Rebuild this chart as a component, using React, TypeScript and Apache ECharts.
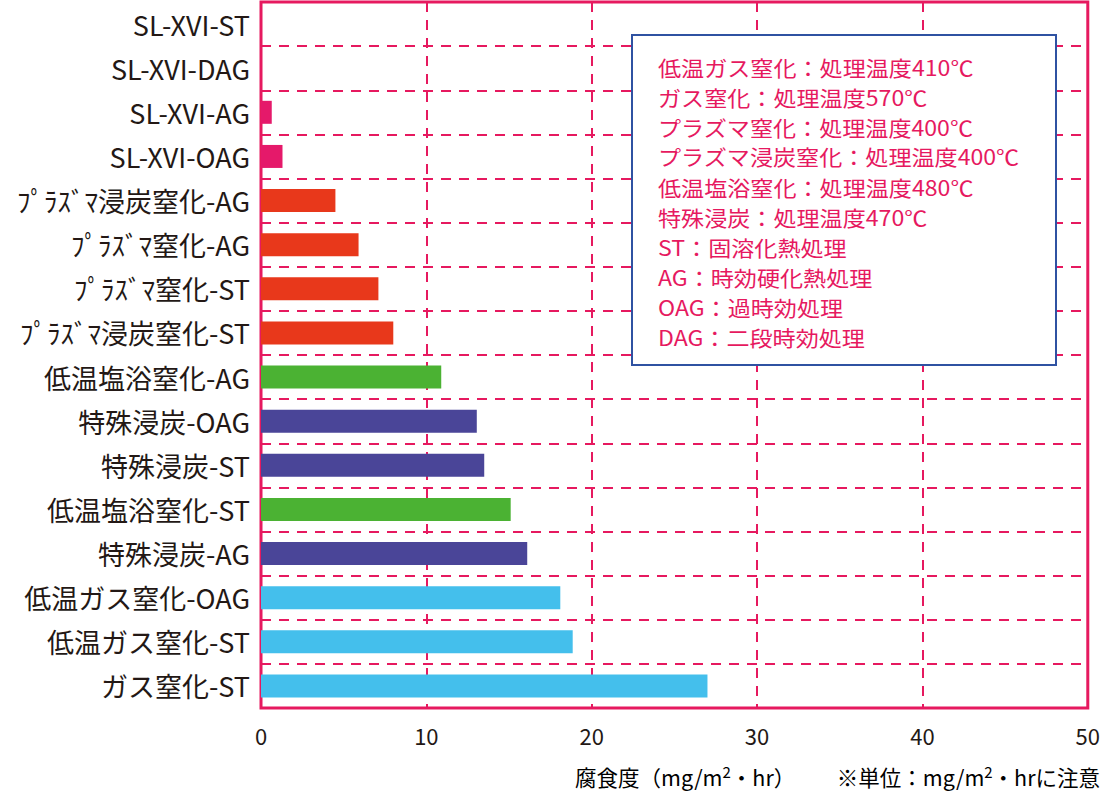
import React, { useEffect, useRef } from "react";
import * as echarts from "echarts";

const categories = [
  "SL-XVI-ST",
  "SL-XVI-DAG",
  "SL-XVI-AG",
  "SL-XVI-OAG",
  "ﾌﾟﾗｽﾞﾏ浸炭窒化-AG",
  "ﾌﾟﾗｽﾞﾏ窒化-AG",
  "ﾌﾟﾗｽﾞﾏ窒化-ST",
  "ﾌﾟﾗｽﾞﾏ浸炭窒化-ST",
  "低温塩浴窒化-AG",
  "特殊浸炭-OAG",
  "特殊浸炭-ST",
  "低温塩浴窒化-ST",
  "特殊浸炭-AG",
  "低温ガス窒化-OAG",
  "低温ガス窒化-ST",
  "ガス窒化-ST",
];

const values = [0, 0, 0.65, 1.3, 4.5, 5.9, 7.1, 8.0, 10.9, 13.05, 13.5, 15.1, 16.1, 18.1, 18.85, 27.0];

const groups = [
  "sl", "sl", "sl", "sl",
  "plasma", "plasma", "plasma", "plasma",
  "salt", "carb", "carb", "salt", "carb",
  "gas", "gas", "gas",
];

const groupColors: Record<string, string> = {
  sl: "#e5196a",
  plasma: "#e8381b",
  salt: "#4bb233",
  carb: "#4a4598",
  gas: "#44bfec",
};

const legendLines = [
  "低温ガス窒化：処理温度410℃",
  "ガス窒化：処理温度570℃",
  "プラズマ窒化：処理温度400℃",
  "プラズマ浸炭窒化：処理温度400℃",
  "低温塩浴窒化：処理温度480℃",
  "特殊浸炭：処理温度470℃",
  "ST：固溶化熱処理",
  "AG：時効硬化熱処理",
  "OAG：過時効処理",
  "DAG：二段時効処理",
];

const xTicks = { min: 0, max: 50, interval: 10 };

const PINK = "#e6195f";
const TEXT = "#231815";
const FONT = "'Noto Sans CJK JP', 'Noto Sans', sans-serif";

export default function App() {
  const ref = useRef<HTMLDivElement>(null);

  useEffect(() => {
    document.body.style.margin = "0";
    if (!ref.current) return;
    const chart = echarts.init(ref.current, undefined, { renderer: "svg" });

    chart.setOption({
      animation: false,
      textStyle: { fontFamily: FONT },
      grid: {
        left: 261,
        right: 7,
        top: 2,
        bottom: 87,
        show: true,
        borderColor: PINK,
        borderWidth: 3,
        backgroundColor: "transparent",
        containLabel: false,
      },
      xAxis: {
        type: "value",
        min: xTicks.min,
        max: xTicks.max,
        interval: xTicks.interval,
        axisLine: { show: false },
        axisTick: { show: false },
        axisLabel: { fontSize: 22, color: TEXT, margin: 16, fontFamily: FONT },
        splitLine: {
          show: true,
          lineStyle: { color: PINK, width: 2, type: [10, 8] },
        },
      },
      yAxis: {
        type: "category",
        inverse: true,
        data: categories,
        axisLine: { show: false },
        axisTick: { show: false },
        axisLabel: { fontSize: 27, color: TEXT, margin: 11, fontFamily: FONT },
        splitLine: {
          show: true,
          lineStyle: { color: PINK, width: 2, type: [10, 8] },
        },
      },
      series: [
        {
          type: "bar",
          barWidth: 23,
          data: values.map((v, i) => ({
            value: v,
            itemStyle: { color: groupColors[groups[i]] },
          })),
        },
      ],
      graphic: [
        {
          type: "rect",
          z: 100,
          shape: { x: 632, y: 35, width: 424, height: 330 },
          style: { fill: "#ffffff", stroke: "#2f52a2", lineWidth: 2 },
        },
        {
          type: "text",
          x: 658,
          y: 51,
          z: 101,
          scaleX: 1.1,
          style: {
            text: legendLines.join("\n"),
            fill: PINK,
            fontSize: 21,
            fontFamily: FONT,
            lineHeight: 30,
            verticalAlign: "top",
            align: "left",
          },
        },
        {
          type: "text",
          x: 575,
          y: 776,
          style: {
            text: "{a|腐食度（mg/m}{s|2}{a|・hr）}",
            rich: {
              a: { fontSize: 21.5, fontFamily: FONT, color: TEXT },
              s: { fontSize: 15, fontFamily: FONT, color: TEXT, padding: [0, 0, 10, 0] },
            },
            verticalAlign: "middle",
            align: "left",
          },
        },
        {
          type: "text",
          x: 1100,
          y: 776,
          style: {
            text: "{a|※単位：mg/m}{s|2}{a|・hrに注意}",
            rich: {
              a: { fontSize: 21.5, fontFamily: FONT, color: TEXT },
              s: { fontSize: 15, fontFamily: FONT, color: TEXT, padding: [0, 0, 10, 0] },
            },
            verticalAlign: "middle",
            align: "right",
          },
        },
      ],
    });

    return () => chart.dispose();
  }, []);

  return (
    <div
      ref={ref}
      style={{ position: "absolute", left: 0, top: 0, width: 1103, height: 795 }}
    />
  );
}
